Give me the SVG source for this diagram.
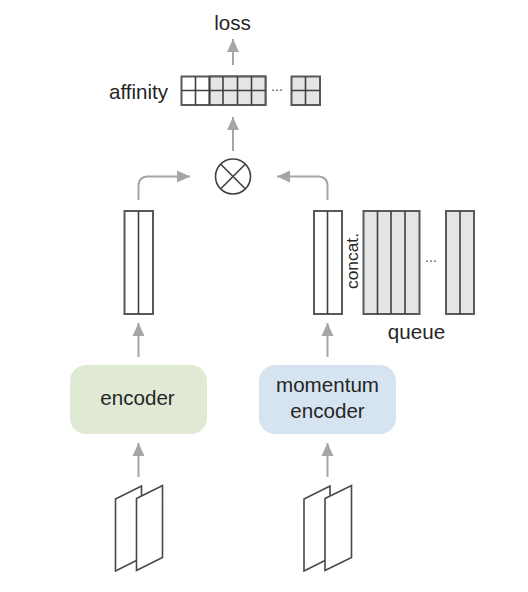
<svg xmlns="http://www.w3.org/2000/svg" width="528" height="592" viewBox="0 0 528 592">
<defs>
<marker id="ah" markerUnits="userSpaceOnUse" markerWidth="14" markerHeight="14" refX="13" refY="6.5" orient="auto"><path d="M0,0.5 L13,6.5 L0,12.5 Z" fill="#a6a6a6"/></marker>
</defs>
<style>
text{font-family:"Liberation Sans",Arial,sans-serif;font-size:20.600px;fill:#262626;text-anchor:middle}
.c{fill:none;stroke:#a6a6a6;stroke-width:2;marker-end:url(#ah)}
.w{fill:#fff;stroke:#595959;stroke-width:2}
.g{fill:#e4e5e6;stroke:#595959;stroke-width:2}
.l{fill:none;stroke:#404040;stroke-width:1.6}
.p{fill:#fff;stroke:#484848;stroke-width:1.6;stroke-linejoin:miter}
.d{font-size:14.500px;fill:#555}
</style>
<rect width="528" height="592" fill="#fff"/>
<g id="connectors">
<path class="c" d="M233,65 V39"/>
<path class="c" d="M233,151 V117"/>
<path class="c" d="M138.500,200 V186 Q138.500,176.500 148,176.500 H190"/>
<path class="c" d="M327.500,200 V186 Q327.500,176.500 318,176.500 H277"/>
<path class="c" d="M138.500,357 V323"/>
<path class="c" d="M327.500,357 V323"/>
<path class="c" d="M138.500,477 V443"/>
<path class="c" d="M327.500,477 V443"/>
</g>
<g id="loss"><text x="232.500" y="30">loss</text></g>
<g id="affinity">
<text x="138.500" y="99">affinity</text>
<rect class="w" x="181.500" y="76.500" width="84" height="28.500"/>
<rect class="g" x="209.500" y="76.500" width="56" height="28.500"/>
<path class="l" d="M181.500,90.500 H265.500 M195.500,76.500 V105 M209.500,76.500 V105 M223,76.500 V105 M237.500,76.500 V105 M251.500,76.500 V105"/>
<text class="d" x="277" y="91">...</text>
<rect class="g" x="291.500" y="76.500" width="28.500" height="28.500"/>
<path class="l" d="M291.500,90.500 H320 M305.500,76.500 V105"/>
</g>
<g id="product">
<circle cx="233" cy="176.500" r="17.500" fill="#fff" stroke="#404040" stroke-width="1.600"/>
<path class="l" d="M221,164.500 L245,188.500 M245,164.500 L221,188.500"/>
</g>
<g id="left-feature">
<rect class="w" x="124.500" y="211" width="28.500" height="103"/>
<path class="l" d="M138.500,211 V314"/>
</g>
<g id="right-feature">
<rect class="w" x="314" y="211" width="28" height="103"/>
<path class="l" d="M327.500,211 V314"/>
</g>
<g id="concat"><text transform="translate(358,261) rotate(-90)" x="0" y="0" style="font-size:17.400px">concat.</text></g>
<g id="queue">
<rect class="g" x="363.500" y="211" width="56" height="103"/>
<path class="l" d="M377.500,211 V314 M391,211 V314 M405,211 V314"/>
<text class="d" x="431" y="262">...</text>
<rect class="g" x="446" y="211" width="28" height="103"/>
<path class="l" d="M460,211 V314"/>
<text x="416.500" y="339">queue</text>
</g>
<g id="encoder">
<rect x="70" y="365" width="137" height="69" rx="16" fill="#e0e9d3"/>
<text x="137.500" y="405">encoder</text>
</g>
<g id="momentum-encoder">
<rect x="259" y="365" width="137" height="69" rx="16" fill="#d5e4f0"/>
<text x="327.500" y="392">momentum</text>
<text x="327.500" y="418">encoder</text>
</g>
<g id="left-input">
<path class="p" d="M115.500,499 L141.500,486 V558 L115.500,571 Z"/>
<path class="p" d="M136.500,498.500 L162.500,485.500 V557.500 L136.500,570.500 Z"/>
</g>
<g id="right-input">
<path class="p" d="M304,499 L330,486 V558 L304,571 Z"/>
<path class="p" d="M325,498.500 L351.500,485.500 V557.500 L325,570.500 Z"/>
</g>
</svg>
